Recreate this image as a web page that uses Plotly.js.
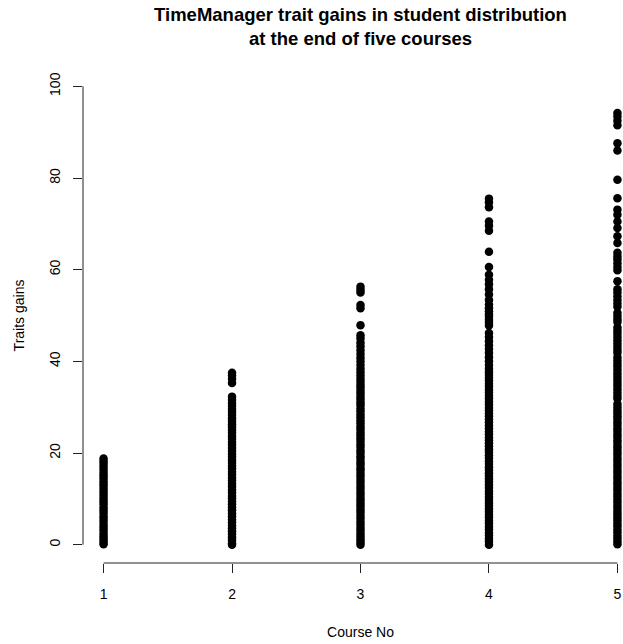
<!DOCTYPE html>
<html>
<head>
<meta charset="utf-8">
<script src="https://cdn.plot.ly/plotly-3.0.1.min.js"></script>
<style>
html,body{margin:0;padding:0;overflow:hidden;background:#fff;}
#chart{width:638px;height:644px;}
</style>
</head>
<body>
<div id="chart"></div>
<script>
// Course numbers (x categories)
const courses = [1, 2, 3, 4, 5];
const xTickLabels = ["1", "2", "3", "4", "5"];
const yTickVals = [0, 20, 40, 60, 80, 100];

// Trait gains per student for each course
const course1 = [18.8,18.2,17.6,17.0,16.4,15.7,15.1,14.5,13.8,13.2,12.6,11.9,11.3,10.7,10.0,9.4,8.8,8.1,7.5,6.9,6.2,5.6,5.0,4.3,3.7,3.1,2.4,1.8,1.2,0.6,0.1];
const course2 = [37.5,36.9,36.2,35.3,32.3,31.6,30.9,30.3,29.6,29.0,28.3,27.6,27.0,26.3,25.7,25.0,24.4,23.7,23.1,22.4,21.8,21.1,20.5,19.8,19.2,18.5,17.9,17.2,16.6,15.9,15.3,14.6,14.0,13.3,12.7,12.0,11.4,10.7,10.1,9.4,8.8,8.1,7.5,6.8,6.2,5.5,4.9,4.2,3.6,2.9,2.3,1.6,1.0,0.3,0.0];
const course3 = [56.3,55.6,55.0,52.3,51.6,47.9,45.7,45.0,44.1,43.3,42.4,41.6,40.8,40.0,39.2,38.4,37.6,36.9,36.2,35.6,34.9,34.3,33.6,33.0,32.3,31.7,31.0,30.4,29.7,29.1,28.4,27.8,27.1,26.5,25.8,25.2,24.5,23.9,23.2,22.6,21.9,21.3,20.6,20.0,19.3,18.7,18.0,17.4,16.7,16.1,15.4,14.8,14.1,13.5,12.8,12.2,11.5,10.9,10.2,9.6,8.9,8.3,7.6,7.0,6.3,5.7,5.0,4.4,3.7,3.1,2.4,1.8,1.1,0.5,0.0];
const course4 = [75.5,74.7,73.6,70.5,69.6,68.5,63.9,60.6,58.9,57.8,56.8,55.7,54.6,53.4,52.4,51.6,50.9,50.3,49.7,49.0,48.4,47.8,46.2,45.3,44.4,43.5,42.7,41.8,40.9,40.0,39.2,38.4,37.7,37.1,36.4,35.8,35.1,34.5,33.8,33.2,32.5,31.9,31.2,30.6,29.9,29.3,28.6,28.0,27.3,26.7,26.0,25.4,24.7,24.1,23.4,22.8,22.1,21.5,20.8,20.2,19.5,18.9,18.2,17.6,16.9,16.3,15.6,15.0,14.3,13.7,13.0,12.4,11.7,11.1,10.4,9.8,9.1,8.5,7.8,7.2,6.5,5.9,5.2,4.6,3.9,3.3,2.6,2.0,1.3,0.7,0.0];
const course5 = [94.2,93.4,92.5,91.5,87.6,86.0,79.6,75.6,73.1,72.0,70.5,69.1,67.3,65.8,63.7,62.9,62.2,61.4,60.6,59.9,57.5,55.7,55.0,54.2,53.4,52.6,51.9,50.6,49.9,49.2,48.6,47.4,46.7,46.0,45.3,44.6,43.9,43.2,42.5,41.9,40.9,40.2,39.5,38.8,38.1,37.4,36.7,36.0,35.3,34.6,33.9,33.2,32.5,31.9,30.7,30.0,29.3,28.7,28.0,27.4,26.7,26.1,25.4,24.8,24.1,23.5,22.8,22.2,21.5,20.9,20.2,19.6,18.9,18.3,17.6,17.0,16.3,15.7,15.0,14.4,13.7,13.1,12.4,11.8,11.1,10.5,9.8,9.2,8.5,7.9,7.2,6.6,5.9,5.3,4.6,4.0,3.3,2.7,2.0,1.4,0.7,0.1];

const series = [course1, course2, course3, course4, course5];
const xs = [], ys = [];
series.forEach((vals, i) => {
  vals.forEach(v => { xs.push(courses[i]); ys.push(v); });
});

const FONT = "Liberation Sans, Arial, Helvetica, sans-serif";

const trace = {
  type: "scatter",
  mode: "markers",
  x: xs,
  y: ys,
  marker: {color: "#000000", size: 8.5, line: {width: 0}},
  cliponaxis: false,
  hoverinfo: "x+y"
};

const layout = {
  width: 638,
  height: 644,
  margin: {l: 83, r: 0, t: 68, b: 81},
  paper_bgcolor: "#ffffff",
  plot_bgcolor: "#ffffff",
  showlegend: false,
  font: {family: FONT, size: 14, color: "#000"},
  title: {
    text: "TimeManager trait gains in student distribution<br>at the end of five courses",
    font: {family: FONT, size: 18.5, color: "#000", weight: "bold"},
    x: 0.5, xref: "paper", xanchor: "center",
    y: 0.968, yref: "container", yanchor: "top"
  },
  xaxis: {
    range: [0.84, 5.16],
    tickvals: courses,
    ticktext: xTickLabels,
    ticks: "outside", ticklen: 9, tickwidth: 1, tickcolor: "#222",
    ticklabelstandoff: 9,
    showline: false, showgrid: false, zeroline: false,
    tickfont: {family: FONT, size: 14, color: "#000"},
    title: {text: "Course No", font: {family: FONT, size: 14, color: "#000"}, standoff: 26},
    automargin: false, fixedrange: true
  },
  yaxis: {
    range: [-4, 104],
    tickvals: yTickVals,
    ticktext: yTickVals.map(String),
    tickangle: -90,
    ticks: "outside", ticklen: 9, tickwidth: 1, tickcolor: "#222",
    ticklabelstandoff: 7,
    showline: false, showgrid: false, zeroline: false,
    tickfont: {family: FONT, size: 14, color: "#000"},
    title: {text: "Traits gains", font: {family: FONT, size: 14, color: "#000"}, standoff: 19},
    automargin: false, fixedrange: true
  },
  shapes: [
    {type: "line", xref: "x", yref: "paper", x0: courses[0], x1: courses[courses.length-1], y0: 0, y1: 0,
     line: {color: "#222", width: 1}},
    {type: "line", xref: "paper", yref: "y", x0: 0, x1: 0, y0: yTickVals[0], y1: yTickVals[yTickVals.length-1],
     line: {color: "#222", width: 1}}
  ]
};

Plotly.newPlot("chart", [trace], layout, {displayModeBar: false, staticPlot: true});
</script>
</body>
</html>
